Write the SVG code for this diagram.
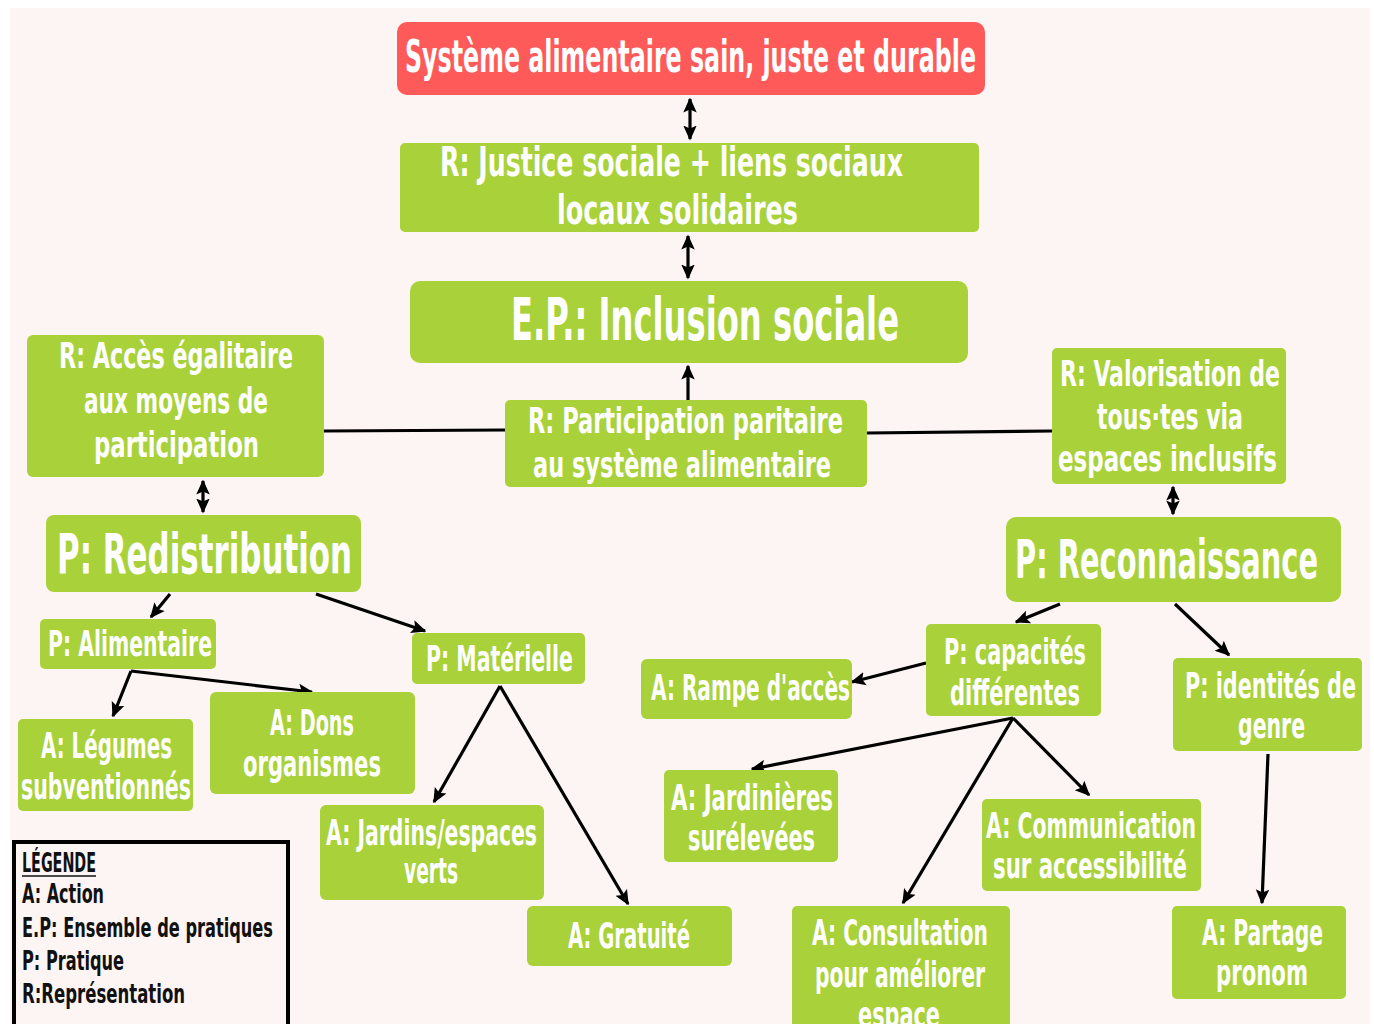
<svg xmlns="http://www.w3.org/2000/svg" width="1374" height="1024" viewBox="0 0 1374 1024">
<style>
.bg{fill:#FDF5F3}
.g{fill:#A9D13A}
.r{fill:#FF5A5A}
.t{fill:#FFFFFF;font-family:"Liberation Sans Narrow","DejaVu Sans Condensed",sans-serif;font-weight:bold}
.m{font-size:36px}
.s{font-size:35px}
.lg{fill:#111111;font-family:"Liberation Sans Narrow","DejaVu Sans Condensed",sans-serif;font-weight:bold;font-size:27px}
.c{stroke:#000;stroke-width:3.2;fill:none}
.a{marker-end:url(#ah)}
.d{marker-start:url(#ah);marker-end:url(#ah)}
</style>
<defs>
<marker id="ah" viewBox="0 0 10 10" refX="9" refY="5" markerWidth="15" markerHeight="15" markerUnits="userSpaceOnUse" orient="auto-start-reverse">
<path d="M0,0.5 L10,5 L0,9.5 L2,5 z" fill="#000"/>
</marker>
</defs>
<rect width="1374" height="1024" fill="#FFFFFF"/>
<rect class="bg" x="10" y="8" width="1360" height="1016"/>

<g id="connectors">
<line class="c d" x1="690" y1="99" x2="690" y2="139"/>
<line class="c d" x1="688" y1="236" x2="688" y2="278"/>
<line class="c a" x1="688" y1="400" x2="688" y2="366"/>
<line class="c" x1="324" y1="431" x2="505" y2="430"/>
<line class="c" x1="867" y1="433" x2="1052" y2="431"/>
<line class="c d" x1="203" y1="481" x2="203" y2="512"/>
<line class="c d" x1="1173" y1="487" x2="1173" y2="514"/>
<line class="c a" x1="170" y1="594" x2="151" y2="617"/>
<line class="c a" x1="316" y1="594" x2="425" y2="631"/>
<line class="c a" x1="131" y1="671" x2="113" y2="716"/>
<line class="c a" x1="131" y1="671" x2="312" y2="692"/>
<line class="c a" x1="500" y1="686" x2="434" y2="802"/>
<line class="c a" x1="500" y1="686" x2="628" y2="904"/>
<line class="c a" x1="1060" y1="604" x2="1016" y2="622"/>
<line class="c a" x1="1175" y1="604" x2="1229" y2="655"/>
<line class="c a" x1="926" y1="663" x2="852" y2="682"/>
<line class="c a" x1="1013" y1="718" x2="752" y2="769"/>
<line class="c a" x1="1013" y1="718" x2="1089" y2="795"/>
<line class="c a" x1="1013" y1="718" x2="903" y2="903"/>
<line class="c a" x1="1268" y1="754" x2="1262" y2="903"/>
</g>

<g id="n-titre">
<rect class="r" x="397" y="22" width="588" height="73" rx="10"/>
<text class="t" x="405" y="72" font-size="44" textLength="571" lengthAdjust="spacingAndGlyphs">Système alimentaire sain, juste et durable</text>
</g>
<g id="n-justice">
<rect class="g" x="400" y="143" width="579" height="89" rx="5"/>
<text class="t" x="440" y="176" font-size="40" textLength="463" lengthAdjust="spacingAndGlyphs">R: Justice sociale + liens sociaux</text>
<text class="t" x="557" y="224" font-size="40" textLength="241" lengthAdjust="spacingAndGlyphs">locaux solidaires</text>
</g>
<g id="n-inclusion">
<rect class="g" x="410" y="281" width="558" height="82" rx="10"/>
<text class="t" x="511" y="340" font-size="58" textLength="388" lengthAdjust="spacingAndGlyphs">E.P.: Inclusion sociale</text>
</g>
<g id="n-participation">
<rect class="g" x="505" y="400" width="362" height="87" rx="5"/>
<text class="t m" x="528" y="433" textLength="315" lengthAdjust="spacingAndGlyphs">R: Participation paritaire</text>
<text class="t m" x="533" y="477" textLength="298" lengthAdjust="spacingAndGlyphs">au système alimentaire</text>
</g>
<g id="n-acces">
<rect class="g" x="27" y="335" width="297" height="142" rx="6"/>
<text class="t m" x="59" y="368" textLength="234" lengthAdjust="spacingAndGlyphs">R: Accès égalitaire</text>
<text class="t m" x="84" y="413" textLength="184" lengthAdjust="spacingAndGlyphs">aux moyens de</text>
<text class="t m" x="94" y="457" textLength="165" lengthAdjust="spacingAndGlyphs">participation</text>
</g>
<g id="n-redistribution">
<rect class="g" x="46" y="515" width="315" height="77" rx="8"/>
<text class="t" x="57" y="573" font-size="56" textLength="295" lengthAdjust="spacingAndGlyphs">P: Redistribution</text>
</g>
<g id="n-valorisation">
<rect class="g" x="1052" y="348" width="234" height="136" rx="5"/>
<text class="t m" x="1060" y="386" textLength="220" lengthAdjust="spacingAndGlyphs">R: Valorisation de</text>
<text class="t m" x="1097" y="429" textLength="146" lengthAdjust="spacingAndGlyphs">tous·tes via</text>
<text class="t m" x="1058" y="471" textLength="219" lengthAdjust="spacingAndGlyphs">espaces inclusifs</text>
</g>
<g id="n-reconnaissance">
<rect class="g" x="1006" y="517" width="335" height="85" rx="10"/>
<text class="t" x="1015" y="578" font-size="54" textLength="303" lengthAdjust="spacingAndGlyphs">P: Reconnaissance</text>
</g>
<g id="n-alimentaire">
<rect class="g" x="40" y="619" width="176" height="50" rx="5"/>
<text class="t s" x="48" y="656" textLength="164" lengthAdjust="spacingAndGlyphs">P: Alimentaire</text>
</g>
<g id="n-materielle">
<rect class="g" x="412" y="633" width="173" height="51" rx="5"/>
<text class="t s" x="426" y="671" textLength="147" lengthAdjust="spacingAndGlyphs">P: Matérielle</text>
</g>
<g id="n-legumes">
<rect class="g" x="18" y="719" width="175" height="92" rx="5"/>
<text class="t s" x="41" y="758" textLength="131" lengthAdjust="spacingAndGlyphs">A: Légumes</text>
<text class="t s" x="21" y="799" textLength="170" lengthAdjust="spacingAndGlyphs">subventionnés</text>
</g>
<g id="n-dons">
<rect class="g" x="210" y="692" width="205" height="102" rx="6"/>
<text class="t s" x="270" y="735" textLength="84" lengthAdjust="spacingAndGlyphs">A: Dons</text>
<text class="t s" x="243" y="776" textLength="138" lengthAdjust="spacingAndGlyphs">organismes</text>
</g>
<g id="n-jardins">
<rect class="g" x="320" y="805" width="224" height="95" rx="6"/>
<text class="t s" x="326" y="845" textLength="211" lengthAdjust="spacingAndGlyphs">A: Jardins/espaces</text>
<text class="t s" x="404" y="883" textLength="54" lengthAdjust="spacingAndGlyphs">verts</text>
</g>
<g id="n-gratuite">
<rect class="g" x="527" y="906" width="205" height="60" rx="6"/>
<text class="t s" x="568" y="948" textLength="122" lengthAdjust="spacingAndGlyphs">A: Gratuité</text>
</g>
<g id="n-capacites">
<rect class="g" x="926" y="624" width="175" height="92" rx="5"/>
<text class="t s" x="944" y="664" textLength="142" lengthAdjust="spacingAndGlyphs">P: capacités</text>
<text class="t s" x="950" y="705" textLength="130" lengthAdjust="spacingAndGlyphs">différentes</text>
</g>
<g id="n-rampe">
<rect class="g" x="641" y="659" width="211" height="60" rx="6"/>
<text class="t s" x="651" y="700" textLength="199" lengthAdjust="spacingAndGlyphs">A: Rampe d'accès</text>
</g>
<g id="n-jardinieres">
<rect class="g" x="664" y="770" width="174" height="92" rx="5"/>
<text class="t s" x="671" y="810" textLength="162" lengthAdjust="spacingAndGlyphs">A: Jardinières</text>
<text class="t s" x="688" y="850" textLength="127" lengthAdjust="spacingAndGlyphs">surélevées</text>
</g>
<g id="n-communication">
<rect class="g" x="982" y="799" width="219" height="92" rx="5"/>
<text class="t s" x="986" y="838" textLength="210" lengthAdjust="spacingAndGlyphs">A: Communication</text>
<text class="t s" x="993" y="878" textLength="194" lengthAdjust="spacingAndGlyphs">sur accessibilité</text>
</g>
<g id="n-consultation">
<rect class="g" x="792" y="906" width="218" height="130" rx="5"/>
<text class="t s" x="812" y="945" textLength="176" lengthAdjust="spacingAndGlyphs">A: Consultation</text>
<text class="t s" x="815" y="987" textLength="170" lengthAdjust="spacingAndGlyphs">pour améliorer</text>
<text class="t s" x="858" y="1027" textLength="82" lengthAdjust="spacingAndGlyphs">espace</text>
</g>
<g id="n-identites">
<rect class="g" x="1173" y="658" width="189" height="93" rx="5"/>
<text class="t s" x="1185" y="698" textLength="171" lengthAdjust="spacingAndGlyphs">P: identités de</text>
<text class="t s" x="1238" y="738" textLength="67" lengthAdjust="spacingAndGlyphs">genre</text>
</g>
<g id="n-partage">
<rect class="g" x="1172" y="906" width="174" height="93" rx="5"/>
<text class="t s" x="1202" y="945" textLength="121" lengthAdjust="spacingAndGlyphs">A: Partage</text>
<text class="t s" x="1216" y="985" textLength="92" lengthAdjust="spacingAndGlyphs">pronom</text>
</g>
<g id="legende">
<rect x="14" y="842" width="274" height="192" fill="none" stroke="#000" stroke-width="4"/>
<text class="lg" x="22" y="872" textLength="74" lengthAdjust="spacingAndGlyphs">LÉGENDE</text>
<line x1="22" y1="876" x2="96" y2="876" stroke="#111" stroke-width="1.5"/>
<text class="lg" x="22" y="903" textLength="82" lengthAdjust="spacingAndGlyphs">A: Action</text>
<text class="lg" x="22" y="937" textLength="251" lengthAdjust="spacingAndGlyphs">E.P: Ensemble de pratiques</text>
<text class="lg" x="22" y="970" textLength="102" lengthAdjust="spacingAndGlyphs">P: Pratique</text>
<text class="lg" x="22" y="1003" textLength="163" lengthAdjust="spacingAndGlyphs">R:Représentation</text>
</g>
</svg>
